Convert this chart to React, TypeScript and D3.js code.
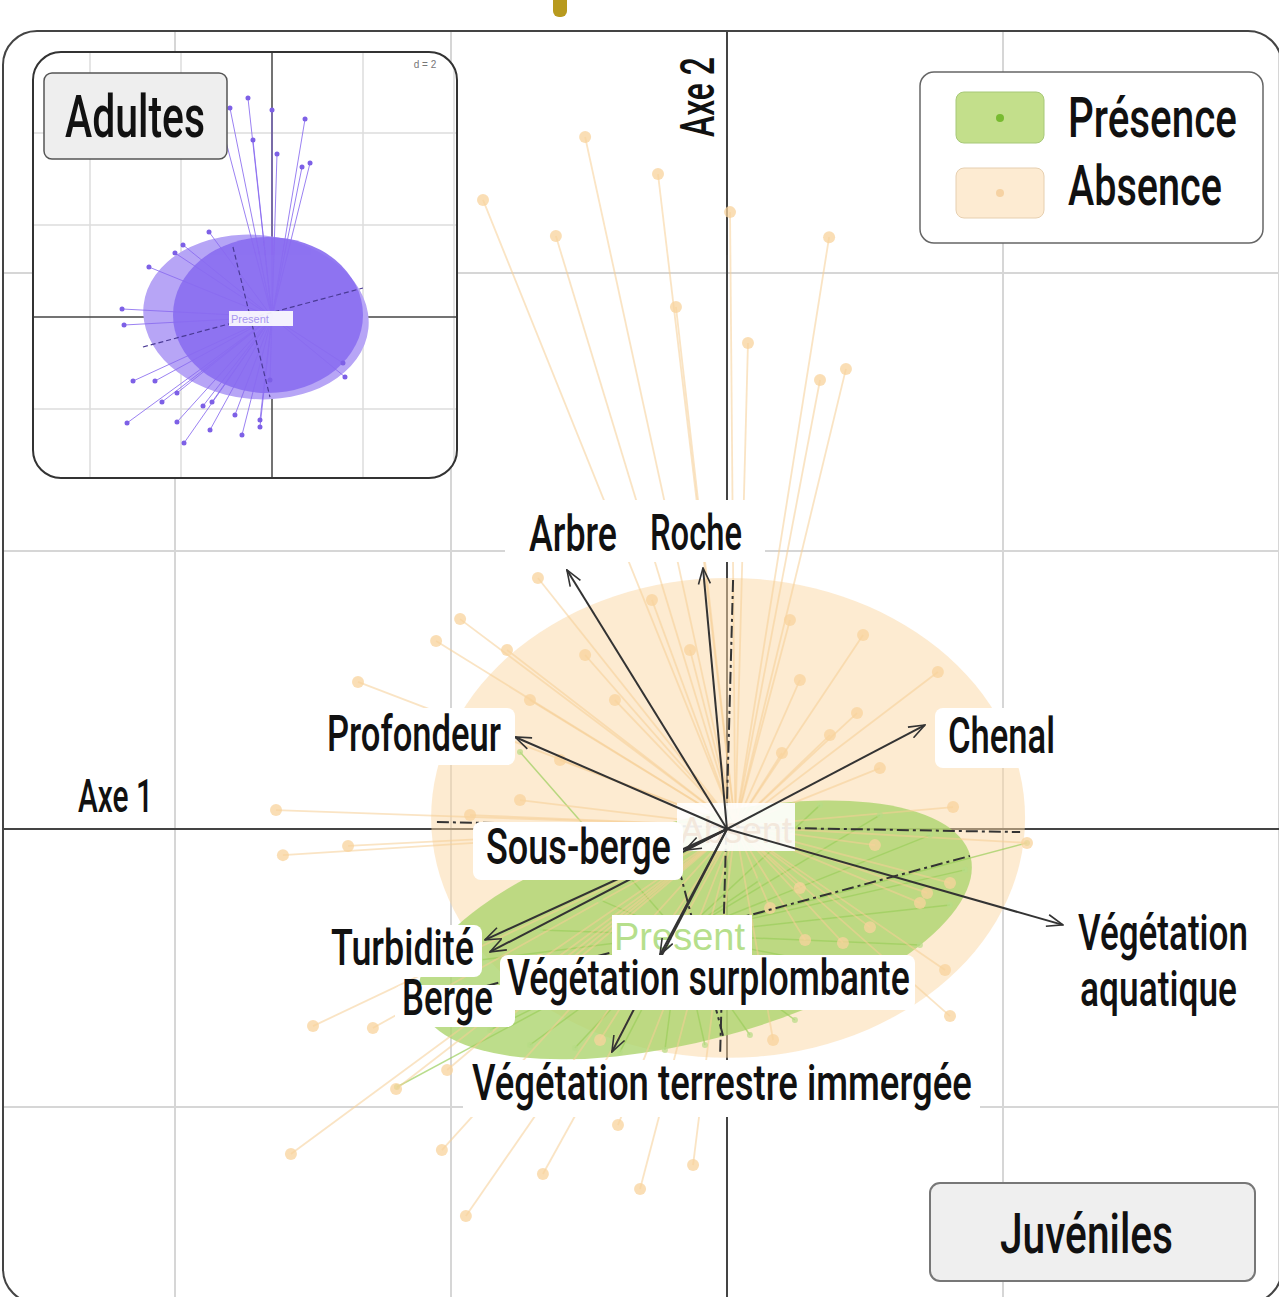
import React from 'react';
import * as d3 from 'd3';

// ---------- Juvéniles (main panel) ----------
const varNames = ['Arbre', 'Roche', 'Profondeur', 'Chenal', 'Végétation aquatique', 'Sous-berge', 'Turbidité', 'Berge', 'Végétation surplombante', 'Végétation terrestre immergée'];
const varX = [-0.580, -0.087, -0.768, 0.717, 1.217, -0.152, -0.877, -0.859, -0.243, -0.417];
const varY = [0.932, 0.939, 0.331, 0.374, -0.345, -0.076, -0.399, -0.442, -0.453, -0.802];

const classNames = ['Présence', 'Absence'];
const classCenterX = [-0.170, 0.03];
const classCenterY = [-0.381, 0.01];
const ellCX = [-0.116, 0.004];
const ellCY = [-0.363, 0.040];
const ellRX = [1.033, 1.076];
const ellRY = [0.396, 0.863];
const ellAngle = [15, 0];

const absentX = [-0.884, -0.620, -0.514, -0.250, -0.185, 0.011, 0.076, 0.370, 0.337, 0.431, -0.967, -1.054, -1.337, -1.634, -1.609, -1.373, -1.500, -1.283, -1.014, -1.199, -1.580, -1.033, -0.946, -0.667, -0.395, -0.315, -0.123, 1.087, 0.808,
  -0.685, -0.797, -0.714, -0.514, -0.406, -0.605, -0.272, -0.134, 0.228, 0.264, 0.493, 0.764, 0.471, 0.373, 0.199, 0.554, 0.819, -0.750, -0.931,
  0.536, 0.725, 0.808, 0.699, 0.518, 0.420, 0.283, 0.156, 0.264, 0.790, 0.167, -0.750, -0.460, -0.678];
const absentY = [2.263, 2.133, 2.489, 2.356, 1.878, 2.219, 1.748, 2.129, 1.615, 1.655, 0.755, 0.676, 0.529, 0.068, -0.094, -0.061, -0.709, -0.716, -0.867, -0.935, -1.169, -1.155, -1.392, -1.241, -1.065, -1.295, -1.209, -0.050, -0.673,
  0.903, 0.644, 0.464, 0.626, 0.464, 0.248, 0.824, 0.644, 0.752, 0.536, 0.698, 0.565, 0.417, 0.338, 0.273, 0.219, 0.079, 0.104, 0.050,
  -0.058, -0.230, -0.194, -0.266, -0.353, -0.410, -0.399, -0.284, -0.212, -0.507, -0.759, -0.615, -0.759, -0.471];

const presentX = [-0.750, 1.087, -1.196, -0.967, -0.859, -0.714, -0.551, -0.388, -0.225, -0.080, 0.083, 0.246, 0.409, 0.554, 0.699, 0.808, 0.862, 0.736, 0.554, 0.337, 0.120, -0.460, -0.678, -0.895];
const presentY = [0.277, -0.050, -0.928, -0.615, -0.723, -0.777, -0.788, -0.802, -0.795, -0.777, -0.741, -0.687, -0.615, -0.525, -0.417, -0.273, -0.147, -0.022, 0.050, 0.086, -0.183, -0.255, -0.363, -0.471];

// ellipse axes (dash-dot) : [x1, y1, x2, y2]
const ellAxes = [
  [-1.051, 0.025, 1.062, -0.011],
  [0.022, 0.896, -0.025, -0.813],
  [-1.112, -0.629, 0.880, -0.097],
  [-0.217, 0.018, -0.014, -0.745],
];

const gridXTicks = [-2, -1, 1, 2];
const gridYTicks = [-1, 1, 2];

// ---------- Adultes (inset) ----------
const adultX = [-0.264, 0, 0.363, 0.055, -0.209, 0.330, 0.418, -0.462, -0.626, -0.692, -0.978, -1.066, -1.352, -1.648, -1.626, 0.780, 0.802,
  -1.527, -1.286, -1.593, -1.209, -1.044, -1.044, -0.967, -0.758, -0.681, -0.659, -0.407, -0.330, -0.132, -0.132, -0.022];
const adultY = [2.380, 2.250, 2.152, 1.772, 1.924, 1.630, 1.674, 2.272, 2.359, 0.924, 0.783, 0.696, 0.543, 0.087, -0.087, -0.500, -0.652,
  -0.696, -0.696, -1.152, -0.924, -0.826, -1.141, -1.370, -0.967, -1.228, -0.924, -1.065, -1.283, -1.196, -1.120, -0.685];
const adultEllCX = [-0.176, -0.044];
const adultEllCY = [0, 0.022];
const adultEllRX = [1.242, 1.044];
const adultEllRY = [0.891, 0.848];
const adultEllAngle = [-6, 0];
const adultAxes = [
  [-1.418, -0.326, 1.0, 0.315],
  [-0.429, 0.761, -0.022, -0.870],
];
const insetGridX = [-2, -1, 1, 2];
const insetGridY = [-1, 1, 2];

const FONT = 'Roboto, "DejaVu Sans", sans-serif';

let measureCtx: CanvasRenderingContext2D | null = null;
function measure(t: string, fs: number): number {
  if (typeof document !== 'undefined') {
    if (!measureCtx) measureCtx = document.createElement('canvas').getContext('2d');
    if (measureCtx) {
      measureCtx.font = `500 ${fs}px Roboto, "DejaVu Sans", sans-serif`;
      const w = measureCtx.measureText(t).width;
      if (w > 0) return w;
    }
  }
  return t.length * fs * 0.52;
}

export default function App() {
  const x = d3.scaleLinear().domain([0, 1]).range([727, 1003]);
  const y = d3.scaleLinear().domain([0, 1]).range([829, 551]);
  const xi = d3.scaleLinear().domain([0, 1]).range([272, 363]);
  const yi = d3.scaleLinear().domain([0, 1]).range([317, 225]);
  const dx = (v: number) => x(v) - x(0);
  const dy = (v: number) => y(0) - y(v);
  const dxi = (v: number) => xi(v) - xi(0);
  const dyi = (v: number) => yi(0) - yi(v);

  const orange = '#f7cf95';
  const greenLine = '#9ccf5c';
  const dash = '12,4,3,4';

  const label = (t: string, lx: number, base: number, w: number, fs = 50, rot = 0) => {
    const sx = w / measure(t, fs);
    const tr = rot
      ? `translate(${lx},${base}) rotate(${rot}) scale(${sx},1)`
      : `translate(${lx},${base}) scale(${sx},1)`;
    return (
      <text key={t + lx + base} transform={tr} x={0} y={0} textAnchor={rot ? 'middle' : 'start'}
        fontFamily={FONT} fontWeight={500} fontSize={fs} fill="#111">{t}</text>
    );
  };

  const boxes = [
    [505, 500, 260, 62], [315, 708, 200, 57], [935, 708, 130, 60], [473, 822, 210, 58],
    [322, 925, 160, 52], [395, 985, 120, 42], [500, 955, 415, 55], [463, 1060, 517, 57], [1068, 905, 190, 120],
  ];

  return (
    <div style={{ position: 'absolute', left: 0, top: 0 }}>
      <svg width={1279} height={1297} viewBox="0 0 1279 1297" style={{ display: 'block', background: '#fff' }}>
        <defs>
          <clipPath id="frameClip"><rect x={3} y={31} width={1279} height={1272} rx={34} /></clipPath>
          <clipPath id="insetClip"><rect x={33} y={52} width={424} height={426} rx={28} /></clipPath>
          <marker id="arr" viewBox="0 0 18 14" refX={17} refY={7} markerWidth={18} markerHeight={14} markerUnits="userSpaceOnUse" orient="auto">
            <path d="M1,1 L17,7 L1,13" fill="none" stroke="#333" strokeWidth={1.6} />
          </marker>
        </defs>
        <rect x={553} y={-10} width={14} height={27} rx={6} fill="#b89a1e" />
        <g clipPath="url(#frameClip)">
          <rect x={3} y={31} width={1279} height={1272} fill="#fff" />
          {gridXTicks.map(t => <line key={'gx' + t} x1={x(t)} x2={x(t)} y1={0} y2={1297} stroke="#d6d6d6" strokeWidth={2} />)}
          {gridYTicks.map(t => <line key={'gy' + t} x1={0} x2={1279} y1={y(t)} y2={y(t)} stroke="#d6d6d6" strokeWidth={2} />)}
          <line x1={0} x2={1279} y1={y(0)} y2={y(0)} stroke="#444" strokeWidth={2} />
          <line x1={x(0)} x2={x(0)} y1={0} y2={1297} stroke="#444" strokeWidth={2} />

          {/* ellipses */}
          <ellipse cx={x(ellCX[1])} cy={y(ellCY[1])} rx={dx(ellRX[1])} ry={dy(ellRY[1])} fill="#fbd7a3" fillOpacity={0.5}
            transform={`rotate(${-ellAngle[1]} ${x(ellCX[1])} ${y(ellCY[1])})`} />
          <ellipse cx={x(ellCX[0])} cy={y(ellCY[0])} rx={dx(ellRX[0])} ry={dy(ellRY[0])} fill="#acd46e" fillOpacity={0.8}
            transform={`rotate(${-ellAngle[0]} ${x(ellCX[0])} ${y(ellCY[0])})`} />

          {/* star lines */}
          {presentX.map((v, i) => <line key={'pl' + i} x1={x(classCenterX[0])} y1={y(classCenterY[0])} x2={x(v)} y2={y(presentY[i])} stroke={greenLine} strokeWidth={1.5} opacity={0.7} />)}
          {absentX.map((v, i) => <line key={'al' + i} x1={x(classCenterX[1])} y1={y(classCenterY[1])} x2={x(v)} y2={y(absentY[i])} stroke={orange} strokeWidth={1.8} opacity={0.55} />)}
          {presentX.map((v, i) => <circle key={'pc' + i} cx={x(v)} cy={y(presentY[i])} r={3} fill="#b6dc86" opacity={0.7} />)}
          {absentX.map((v, i) => <circle key={'ac' + i} cx={x(v)} cy={y(absentY[i])} r={6} fill="#f8d39c" opacity={0.75} />)}

          {ellAxes.map((a, i) => <line key={'ea' + i} x1={x(a[0])} y1={y(a[1])} x2={x(a[2])} y2={y(a[3])} stroke="#333" strokeWidth={2} strokeDasharray={dash} />)}

          {/* class labels */}
          <rect x={677} y={803} width={118} height={48} fill="#fff" opacity={0.9} />
          <text x={680} y={843} fontFamily='"Liberation Sans", Arial, sans-serif' fontSize={36} fill="#f3e8dc">Absent</text>
          <rect x={612} y={915} width={140} height={41} fill="#fff" />
          <text x={614} y={950} fontFamily='"Liberation Sans", Arial, sans-serif' fontSize={38} fill="#b6df8c">Present</text>

          {/* variable arrows */}
          {varX.map((v, i) => <line key={'va' + i} x1={x(0)} y1={y(0)} x2={x(v)} y2={y(varY[i])} stroke="#333" strokeWidth={2} markerEnd="url(#arr)" />)}

          {boxes.map((b, i) => <rect key={'bx' + i} x={b[0]} y={b[1]} width={b[2]} height={b[3]} rx={8} fill="#fff" />)}
          {label(varNames[0], 529, 551, 88)}
          {label(varNames[1], 650, 550, 92)}
          {label(varNames[2], 327, 751, 174)}
          {label(varNames[3], 948, 753, 107)}
          {label(varNames[5], 486, 864, 185)}
          {label(varNames[6], 331, 965, 143)}
          {label(varNames[7], 402, 1015, 91)}
          {label(varNames[8], 507, 995, 403)}
          {label(varNames[9], 472, 1100, 500)}
          {label('Végétation', 1078, 950, 170)}
          {label('aquatique', 1080, 1006, 157)}
          {label('Axe 1', 78, 812, 75, 46)}
          {label('Axe 2', 714, 97, 80, 48, -90)}

          {/* legend */}
          <rect x={920} y={72} width={343} height={171} rx={14} fill="#fff" stroke="#666" strokeWidth={1.5} />
          <rect x={956} y={92} width={88} height={51} rx={8} fill="#c3df8b" stroke="#a7c878" strokeWidth={1} />
          <circle cx={1000} cy={118} r={4} fill="#78bb31" />
          <rect x={956} y={168} width={88} height={50} rx={8} fill="#fdebd2" stroke="#e6cfb0" strokeWidth={1} />
          <circle cx={1000} cy={193} r={4} fill="#f6d2a3" />
          {label(classNames[0], 1068, 137, 169, 56)}
          {label(classNames[1], 1068, 205, 154, 56)}

          {/* Juvéniles tag */}
          <rect x={930} y={1183} width={325} height={98} rx={10} fill="#efefef" stroke="#777" strokeWidth={2} />
          {label('Juvéniles', 1000, 1253, 173, 56)}

          {/* inset: Adultes */}
          <rect x={33} y={52} width={424} height={426} rx={28} fill="#fff" />
          <g clipPath="url(#insetClip)">
            {insetGridX.map(t => <line key={'igx' + t} x1={xi(t)} x2={xi(t)} y1={40} y2={490} stroke="#dcdcdc" strokeWidth={1.5} />)}
            {insetGridY.map(t => <line key={'igy' + t} x1={20} x2={470} y1={yi(t)} y2={yi(t)} stroke="#dcdcdc" strokeWidth={1.5} />)}
            <line x1={20} x2={470} y1={yi(0)} y2={yi(0)} stroke="#444" strokeWidth={1.5} />
            <line x1={xi(0)} x2={xi(0)} y1={40} y2={490} stroke="#444" strokeWidth={1.5} />
            <ellipse cx={xi(adultEllCX[0])} cy={yi(adultEllCY[0])} rx={dxi(adultEllRX[0])} ry={dyi(adultEllRY[0])} fill="#b7a5f6"
              transform={`rotate(${-adultEllAngle[0]} ${xi(adultEllCX[0])} ${yi(adultEllCY[0])})`} />
            <ellipse cx={xi(adultEllCX[1])} cy={yi(adultEllCY[1])} rx={dxi(adultEllRX[1])} ry={dyi(adultEllRY[1])} fill="#8a6ff0" opacity={0.92} />
            {adultX.map((v, i) => <line key={'il' + i} x1={xi(0)} y1={yi(0)} x2={xi(v)} y2={yi(adultY[i])} stroke="#8a6cf0" strokeWidth={1} opacity={0.85} />)}
            {adultX.map((v, i) => <circle key={'ic' + i} cx={xi(v)} cy={yi(adultY[i])} r={2.5} fill="#7d60e6" />)}
            {adultAxes.map((a, i) => <line key={'iax' + i} x1={xi(a[0])} y1={yi(a[1])} x2={xi(a[2])} y2={yi(a[3])} stroke="#4a3a95" strokeWidth={1.2} strokeDasharray="5,3" />)}
            <rect x={229} y={311} width={64} height={15} fill="#fff" opacity={0.9} />
            <text x={231} y={323} fontFamily='"Liberation Sans", Arial, sans-serif' fontSize={11} fill="#a897f0">Present</text>
            <rect x={44} y={73} width={183} height={86} rx={8} fill="#eeeeee" stroke="#555" strokeWidth={1.5} />
            {label('Adultes', 65, 137, 140, 59)}
            <text x={425} y={68} textAnchor="middle" fontFamily='"Liberation Sans", Arial, sans-serif' fontSize={10} fill="#777">d = 2</text>
          </g>
          <rect x={33} y={52} width={424} height={426} rx={28} fill="none" stroke="#333" strokeWidth={2} />
        </g>
        <rect x={3} y={31} width={1279} height={1272} rx={34} fill="none" stroke="#444" strokeWidth={2} />
      </svg>
    </div>
  );
}
